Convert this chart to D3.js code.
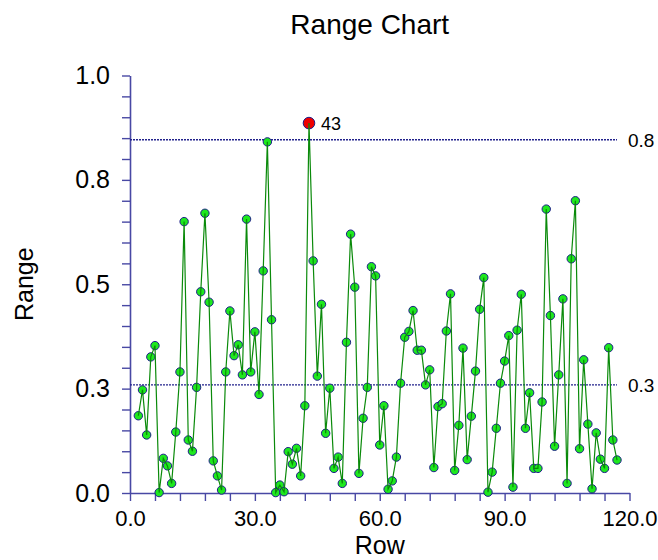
<!DOCTYPE html>
<html>
<head>
<meta charset="utf-8">
<script src="https://cdn.jsdelivr.net/npm/d3@7"></script>
<style>
  body { margin: 0; background: #fff; overflow: hidden; }
  svg { display: block; font-family: "Liberation Sans", Arial, sans-serif; }
</style>
<script>
// subgroup row numbers and the range values
const rows = [
  2, 3, 4, 5, 6, 7, 8, 9, 10, 11, 12, 13, 14, 15, 16, 17, 18, 19, 20, 21,
  22, 23, 24, 25, 26, 27, 28, 29, 30, 31, 32, 33, 34, 35, 36, 37, 38, 39, 40, 41,
  42, 43, 44, 45, 46, 47, 48, 49, 50, 51, 52, 53, 54, 55, 56, 57, 58, 59, 60, 61,
  62, 63, 64, 65, 66, 67, 68, 69, 70, 71, 72, 73, 74, 75, 76, 77, 78, 79, 80, 81,
  82, 83, 84, 85, 86, 87, 88, 89, 90, 91, 92, 93, 94, 95, 96, 97, 98, 99, 100, 101,
  102, 103, 104, 105, 106, 107, 108, 109, 110, 111, 112, 113, 114, 115, 116, 117
];
const ranges = [
  0.185, 0.247, 0.139, 0.326, 0.353, 0.001, 0.083, 0.065, 0.023, 0.146,
  0.290, 0.650, 0.127, 0.100, 0.253, 0.482, 0.670, 0.457, 0.077, 0.041,
  0.007, 0.290, 0.436, 0.329, 0.355, 0.283, 0.656, 0.290, 0.386, 0.236,
  0.532, 0.841, 0.415, 0.001, 0.019, 0.003, 0.099, 0.069, 0.107, 0.041,
  0.209, 0.886, 0.556, 0.280, 0.452, 0.143, 0.251, 0.059, 0.086, 0.023,
  0.361, 0.620, 0.493, 0.047, 0.179, 0.253, 0.542, 0.520, 0.115, 0.209,
  0.009, 0.029, 0.086, 0.263, 0.373, 0.387, 0.437, 0.342, 0.342, 0.259,
  0.295, 0.061, 0.207, 0.214, 0.388, 0.477, 0.054, 0.162, 0.347, 0.080,
  0.184, 0.292, 0.440, 0.516, 0.002, 0.050, 0.155, 0.263, 0.316, 0.377,
  0.014, 0.390, 0.476, 0.155, 0.240, 0.059, 0.059, 0.218, 0.680, 0.425,
  0.112, 0.283, 0.465, 0.023, 0.561, 0.700, 0.106, 0.319, 0.165, 0.010,
  0.144, 0.081, 0.059, 0.348, 0.127, 0.079
];
const centerLine = 0.259;
const upperLimit = 0.846;
const xTickLabels = [0, 30, 60, 90, 120];
const yTickLabels = [0, 0.25, 0.5, 0.75, 1.0];

function drawChart() {
  const width = 658;
  const height = 560;
  const margin = { top: 75.5, right: 28.5, bottom: 67, left: 130 };
  const innerWidth = width - margin.left - margin.right;
  const innerHeight = height - margin.top - margin.bottom;

  const axisColor = "#4848a4";
  const limitColor = "#22228c";

  const svg = d3
    .select("#chart")
    .append("svg")
    .attr("width", width)
    .attr("height", height);

  const g = svg.append("g").attr("transform", `translate(${margin.left}, ${margin.top})`);

  const xScale = d3.scaleLinear().domain([0, 120]).range([0, innerWidth]);
  const yScale = d3.scaleLinear().domain([0, 1]).range([innerHeight, 0]);

  const fmt = d3.format(".1f");

  // axes: minor ticks every 6 rows / 0.05, labels on the major ones only
  const xAxis = d3
    .axisBottom(xScale)
    .tickValues(d3.range(0, 121, 6))
    .tickSize(8)
    .tickSizeOuter(0)
    .tickPadding(9)
    .tickFormat((d) => (xTickLabels.includes(d) ? fmt(d) : ""));

  const yAxis = d3
    .axisLeft(yScale)
    .tickValues(d3.range(0, 20.5).map((i) => i * 0.05))
    .tickSize(8)
    .tickSizeOuter(0)
    .tickPadding(12)
    .tickFormat((d) => (yTickLabels.some((v) => Math.abs(v - d) < 1e-9) ? fmt(d) : ""));

  const xAxisGroup = g
    .append("g")
    .attr("class", "x-axis")
    .attr("transform", `translate(0, ${innerHeight})`)
    .call(xAxis);

  const yAxisGroup = g.append("g").attr("class", "y-axis").call(yAxis);

  [xAxisGroup, yAxisGroup].forEach((ax) => {
    ax.select(".domain").attr("stroke", axisColor).attr("stroke-width", 1.6);
    ax.selectAll(".tick line").attr("stroke", axisColor).attr("stroke-width", 1.4);
    ax.selectAll(".tick text")
      .attr("fill", "#000")
      .attr("font-family", "Liberation Sans, Arial, sans-serif")
      .filter(function () { return this.textContent === ""; })
      .remove();
  });
  xAxisGroup.selectAll(".tick text").attr("font-size", 22);
  yAxisGroup.selectAll(".tick text").attr("font-size", 25);

  // control limits
  const lastRow = d3.max(rows);
  const limits = [{ value: upperLimit }, { value: centerLine }];

  g.selectAll(".limit")
    .data(limits)
    .enter()
    .append("line")
    .attr("class", "limit")
    .attr("x1", xScale(0))
    .attr("x2", xScale(lastRow))
    .attr("y1", (d) => yScale(d.value))
    .attr("y2", (d) => yScale(d.value))
    .attr("stroke", limitColor)
    .attr("stroke-width", 1.4)
    .attr("stroke-dasharray", "2,1");

  g.selectAll(".limit-label")
    .data(limits)
    .enter()
    .append("text")
    .attr("class", "limit-label")
    .attr("x", innerWidth - 1.5)
    .attr("y", (d) => yScale(d.value))
    .attr("dy", "0.36em")
    .attr("font-size", 19)
    .attr("fill", "#000")
    .text((d) => fmt(d.value));

  const data = rows.map((r, i) => ({ row: r, value: ranges[i] }));

  // markers first, the connecting line is drawn over them
  g.selectAll(".point")
    .data(data)
    .enter()
    .append("circle")
    .attr("class", "point")
    .attr("cx", (d) => xScale(d.row))
    .attr("cy", (d) => yScale(d.value))
    .attr("r", (d) => (d.value > upperLimit ? 5.8 : 4.2))
    .attr("fill", (d) => (d.value > upperLimit ? "#ee0000" : "#1ee81e"))
    .attr("stroke", "#1c1c8a")
    .attr("stroke-width", 1);

  const line = d3
    .line()
    .x((d) => xScale(d.row))
    .y((d) => yScale(d.value));

  g.append("path")
    .datum(data)
    .attr("fill", "none")
    .attr("stroke", "#0a8a0a")
    .attr("stroke-width", 1.2)
    .attr("d", line);

  // label the out of control rows
  g.selectAll(".flag")
    .data(data.filter((d) => d.value > upperLimit))
    .enter()
    .append("text")
    .attr("class", "flag")
    .attr("x", (d) => xScale(d.row) + 12)
    .attr("y", (d) => yScale(d.value))
    .attr("dy", "0.36em")
    .attr("font-size", 18)
    .attr("fill", "#000")
    .text((d) => d.row);

  // titles
  svg.append("text")
    .attr("x", margin.left + innerWidth / 2 - 10)
    .attr("y", 34)
    .attr("text-anchor", "middle")
    .attr("font-size", 28)
    .attr("fill", "#000")
    .text("Range Chart");

  svg.append("text")
    .attr("x", margin.left + innerWidth / 2)
    .attr("y", 554)
    .attr("text-anchor", "middle")
    .attr("font-size", 25)
    .attr("fill", "#000")
    .text("Row");

  svg.append("text")
    .attr("transform", `translate(33, ${margin.top + innerHeight / 2}) rotate(-90)`)
    .attr("text-anchor", "middle")
    .attr("font-size", 25)
    .attr("fill", "#000")
    .text("Range");
}

document.addEventListener("DOMContentLoaded", drawChart);
</script>
</head>
<body>
<div id="chart"></div>
</body>
</html>
